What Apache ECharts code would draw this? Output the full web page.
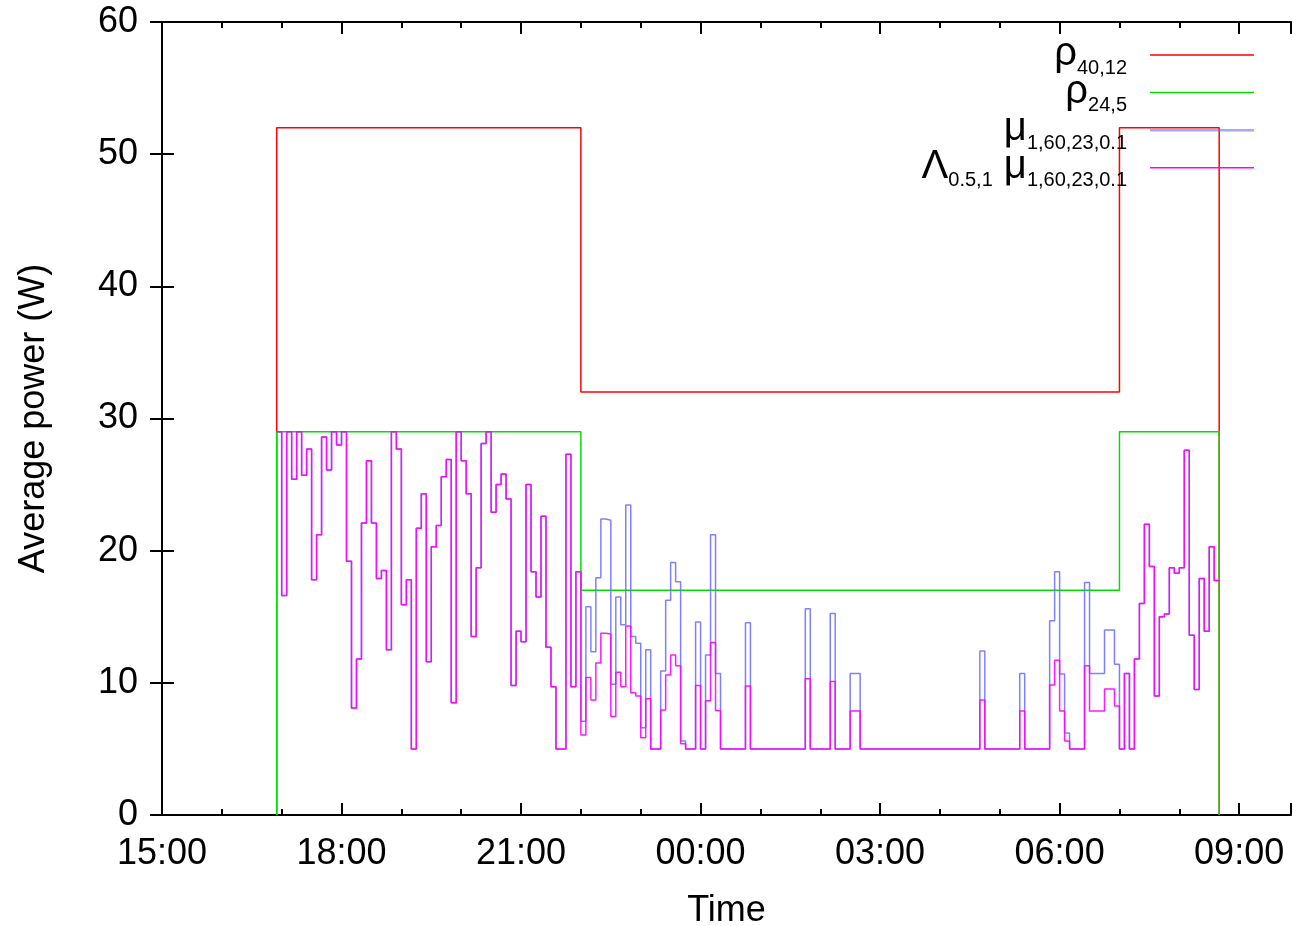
<!DOCTYPE html>
<html><head><meta charset="utf-8">
<script src="https://cdn.jsdelivr.net/npm/echarts@6/dist/echarts.min.js"></script>
<style>html,body{margin:0;padding:0;background:#fff}#c{width:1293px;height:926px}</style>
</head><body><div id="c"></div>
<script>
// minutes after 15:00
const startMinute = 115;   // 16:55
const stepMinutes = 5;

// mu_{1,60,23,0.1} (blue), one value per 5-minute slot
const muValues = [
  29, 16.6, 29, 25.4, 29, 25.7, 27.7, 17.8, 21.2, 28.6,
  26.1, 29, 28.0, 29, 19.2, 8.1, 11.8, 22.1, 26.8, 22.1,
  17.9, 18.5, 12.5, 29, 27.7, 15.9, 17.8, 5.0, 21.7, 24.3,
  11.6, 20.3, 21.9, 25.6, 26.9, 8.5, 29, 26.8, 24.3, 13.5,
  18.7, 28.1, 29, 22.9, 25.0, 25.8, 23.9, 9.8, 13.9, 13.1,
  25.0, 18.4, 16.5, 22.6, 12.7, 9.7, 5.0, 5.0, 27.3, 9.7,
  18.4,
  7.1, 15.75, 12.35, 17.95, 22.4, 22.3, 9.9, 16.5, 14.4,
  23.45, 13.5, 13.0, 6.6, 12.5, 5, 5, 10.9, 16.25, 19.1,
  17.65, 5.6, 5, 5, 14.6, 5, 12.1, 21.2, 10.7,
  5, 5, 5, 5, 5, 14.55, 5, 5, 5, 5, 5,
  5, 5, 5, 5, 5, 5, 15.6, 5, 5, 5,
  5, 15.25, 5, 5, 5, 10.7, 10.7, 5, 5, 5,
  5, 5, 5, 5, 5, 5, 5, 5, 5, 5,
  5, 5, 5, 5, 5, 5, 5, 5, 5, 5,
  5, 12.4, 5, 5, 5, 5, 5, 5, 5, 10.7,
  5, 5, 5, 5, 5, 14.7, 18.4, 10.66, 6.2, 5,
  5, 5, 17.6, 10.7, 10.7, 10.7, 14.0, 14.0, 11.4,
  5, 10.7, 5, 11.8, 16.0, 22.0, 18.8, 9.0, 15.0, 15.2,
  18.7, 18.3, 18.7, 27.6, 13.6, 9.5, 17.9, 13.9, 20.3, 17.75
];

// Lambda_{0.5,1} mu_{1,60,23,0.1} (magenta)
const lambdaValues = [
  29, 16.6, 29, 25.4, 29, 25.7, 27.7, 17.8, 21.2, 28.6,
  26.1, 29, 28.0, 29, 19.2, 8.1, 11.8, 22.1, 26.8, 22.1,
  17.9, 18.5, 12.5, 29, 27.7, 15.9, 17.8, 5.0, 21.7, 24.3,
  11.6, 20.3, 21.9, 25.6, 26.9, 8.5, 29, 26.8, 24.3, 13.5,
  18.7, 28.1, 29, 22.9, 25.0, 25.8, 23.9, 9.8, 13.9, 13.1,
  25.0, 18.4, 16.5, 22.6, 12.7, 9.7, 5.0, 5.0, 27.3, 9.7,
  18.4,
  6.05, 10.4, 8.7, 11.5, 13.75, 13.7, 7.45, 10.8, 9.7,
  14.3, 9.25, 9.0, 5.85, 8.8, 5, 5, 7.95, 10.6, 12.1,
  11.3, 5.4, 5, 5, 9.8, 5, 8.65, 13.05, 7.9,
  5, 5, 5, 5, 5, 9.76, 5, 5, 5, 5, 5,
  5, 5, 5, 5, 5, 5, 10.3, 5, 5, 5,
  5, 10.1, 5, 5, 5, 7.87, 7.87, 5, 5, 5,
  5, 5, 5, 5, 5, 5, 5, 5, 5, 5,
  5, 5, 5, 5, 5, 5, 5, 5, 5, 5,
  5, 8.7, 5, 5, 5, 5, 5, 5, 5, 7.87,
  5, 5, 5, 5, 5, 9.83, 11.7, 7.87, 5.6, 5,
  5, 5, 11.3, 7.87, 7.87, 7.87, 9.53, 9.53, 8.25,
  5, 10.7, 5, 11.8, 16.0, 22.0, 18.8, 9.0, 15.0, 15.2,
  18.7, 18.3, 18.7, 27.6, 13.6, 9.5, 17.9, 13.9, 20.3, 17.75
];

// budget curves: breakpoints (minutes after 15:00) and levels
const budgetTimes = [115, 420, 960, 1060];
const rho40Values = [52, 32, 52];
const rho24Values = [29, 17, 29];

const axisMin = 0;      // 15:00
const axisMax = 1132;   // right frame edge
const majorInterval = 180;
const minorInterval = 60;

const FONT = '"Liberation Sans", Arial, Helvetica, sans-serif';

function fmtTime(v) {
  if (v % majorInterval !== 0) return '';
  const h = (15 + Math.floor(v / 60)) % 24;
  const m = v % 60;
  return String(h).padStart(2, '0') + ':' + String(m).padStart(2, '0');
}
function seriesData(vals) {
  const d = vals.map((v, k) => [startMinute + k * stepMinutes, v]);
  d.push([startMinute + vals.length * stepMinutes, vals[vals.length - 1]]);
  return d;
}
function budgetData(times, vals) {
  const d = [[times[0], 0]];
  vals.forEach((v, i) => d.push([times[i], v]));
  d.push([times[times.length - 1], vals[vals.length - 1]]);
  d.push([times[times.length - 1], 0]);
  return d;
}

const colors = ['#ff0000', '#00e000', '#6a6aff', '#ff00ff'];

// legend (drawn as graphic text with subscripts)
const mctx = document.createElement('canvas').getContext('2d');
function textW(t, size) { mctx.font = size + 'px ' + FONT; return mctx.measureText(t).width; }
const legendRows = [
  [['ρ', 'm'], ['40,12', 's']],
  [['ρ', 'm'], ['24,5', 's']],
  [['μ', 'm'], ['1,60,23,0.1', 's']],
  [['Λ', 'm'], ['0.5,1', 's'], [' μ', 'm'], ['1,60,23,0.1', 's']]
];
const MAIN = 40, SUB = 20;
const graphics = [];
legendRows.forEach((row, i) => {
  const L = 55 + 37.6 * i;
  let x = 1127;
  for (let j = row.length - 1; j >= 0; j--) {
    const [t, kind] = row[j];
    const size = kind === 'm' ? MAIN : SUB;
    x -= textW(t, size);
    graphics.push({
      type: 'text', x: x, y: kind === 'm' ? L - 1 : L + 13, z: 100,
      style: { text: t, fontSize: size, fontFamily: FONT, fill: '#000', align: 'left', verticalAlign: 'middle' }
    });
  }
  graphics.push({
    type: 'line', z: 100, shape: { x1: 1150, y1: L, x2: 1254, y2: L },
    style: { stroke: colors[i], lineWidth: i === 2 ? 2.5 : 1.5, opacity: i === 2 ? 0.6 : 1 }
  });
});

const axisLineStyle = { show: true, lineStyle: { color: '#000', width: 2 } };
function xAx(pos, interval, tickLen, showLine, showLabel) {
  return {
    type: 'value', position: pos, min: axisMin, max: axisMax, interval: interval,
    axisLine: showLine ? axisLineStyle : { show: false },
    axisTick: { show: true, inside: true, length: tickLen, lineStyle: { color: '#000', width: 2 } },
    axisLabel: showLabel ? { show: true, formatter: fmtTime, fontSize: 36, fontFamily: FONT, color: '#000', margin: 21 } : { show: false },
    splitLine: { show: false }
  };
}

const chart = echarts.init(document.getElementById('c'), null, { renderer: 'canvas' });
chart.setOption({
  animation: false,
  backgroundColor: '#fff',
  grid: { left: 162, right: 2, top: 22, bottom: 111, outerBoundsMode: 'none' },
  xAxis: [
    Object.assign(xAx('bottom', majorInterval, 12, true, true), {
      name: 'Time', nameLocation: 'middle', nameGap: 78,
      nameTextStyle: { fontSize: 36, fontFamily: FONT, color: '#000' }
    }),
    xAx('bottom', minorInterval, 6, false, false),
    xAx('top', majorInterval, 12, true, false),
    xAx('top', minorInterval, 6, false, false)
  ],
  yAxis: [
    {
      type: 'value', position: 'left', min: 0, max: 60, interval: 10,
      name: 'Average power (W)', nameLocation: 'middle', nameGap: 110, nameRotate: 90,
      nameTextStyle: { fontSize: 36, fontFamily: FONT, color: '#000' },
      axisLine: axisLineStyle,
      axisTick: { show: true, inside: true, length: 12, lineStyle: { color: '#000', width: 2 } },
      axisLabel: { fontSize: 36, fontFamily: FONT, color: '#000', margin: 24 },
      splitLine: { show: false }
    },
    {
      type: 'value', position: 'right', min: 0, max: 60, interval: 10,
      axisLine: axisLineStyle,
      axisTick: { show: true, inside: true, length: 12, lineStyle: { color: '#000', width: 2 } },
      axisLabel: { show: false },
      splitLine: { show: false }
    }
  ],
  series: [
    { name: 'ρ40,12', type: 'line', step: 'end', data: budgetData(budgetTimes, rho40Values), symbol: 'none',
      lineStyle: { color: colors[0], width: 1.5 }, itemStyle: { color: colors[0] } },
    { name: 'ρ24,5', type: 'line', step: 'end', data: budgetData(budgetTimes, rho24Values), symbol: 'none',
      lineStyle: { color: colors[1], width: 1.5 }, itemStyle: { color: colors[1] } },
    { name: 'μ1,60,23,0.1', type: 'line', step: 'end', data: seriesData(muValues), symbol: 'none',
      lineStyle: { color: colors[2], width: 1.5, opacity: 0.85 }, itemStyle: { color: colors[2] } },
    { name: 'Λ0.5,1 μ1,60,23,0.1', type: 'line', step: 'end', data: seriesData(lambdaValues), symbol: 'none',
      lineStyle: { color: colors[3], width: 1.5, opacity: 0.9 }, itemStyle: { color: colors[3] } }
  ],
  graphic: graphics
});
</script>
</body></html>
